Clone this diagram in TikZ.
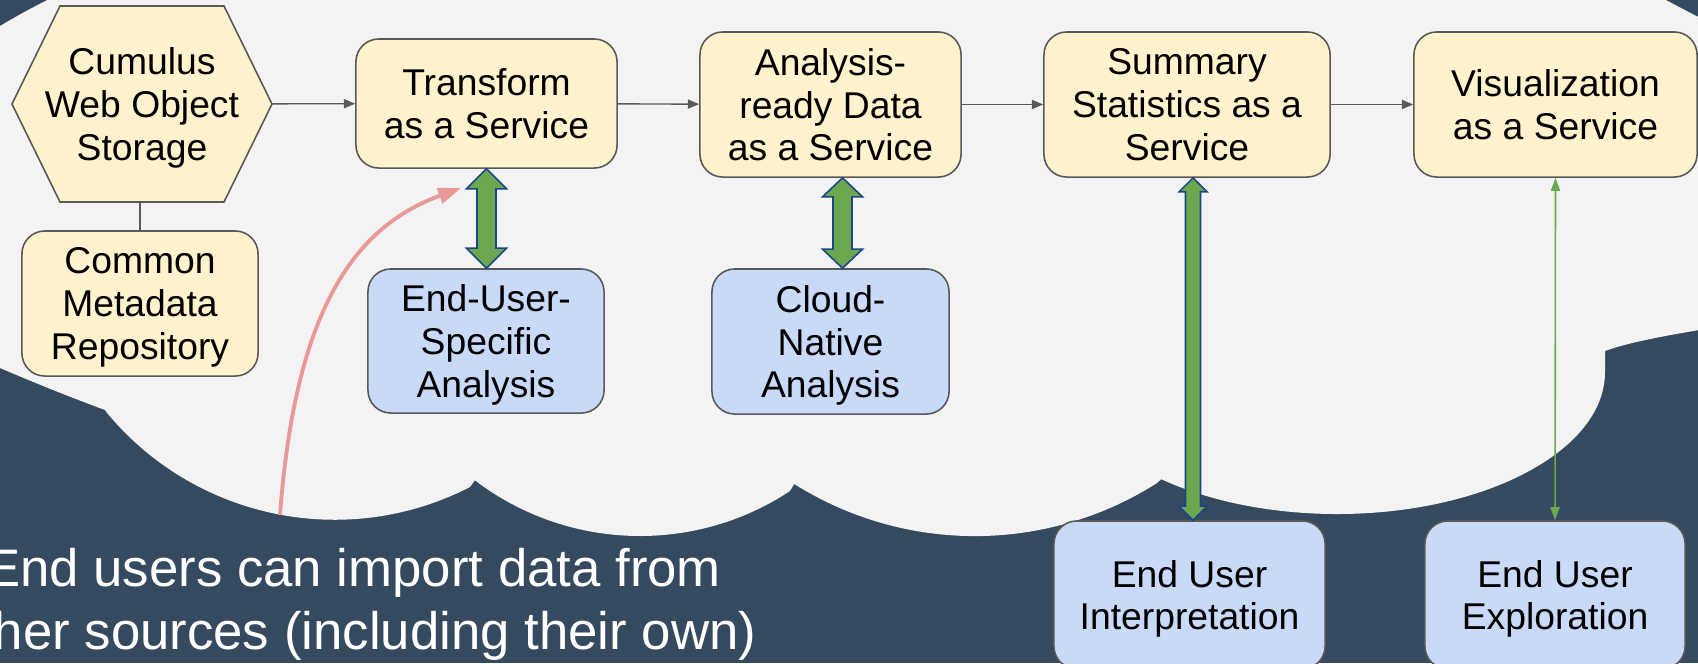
\documentclass[tikz,border=0pt]{standalone}
\usepackage{fontspec}
\setmainfont{Liberation Sans}
\usetikzlibrary{arrows.meta,calc}

\definecolor{slate}{HTML}{354A5F}
\definecolor{fog}{HTML}{F3F3F3}
\definecolor{cream}{HTML}{FFF2CC}
\definecolor{paleblue}{HTML}{C9DAF8}
\definecolor{leaf}{HTML}{6AA84F}
\definecolor{navy}{HTML}{1C4587}
\definecolor{rose}{HTML}{EA9999}
\definecolor{edge}{HTML}{595959}

% fat two-headed arrow: top anchor, bottom anchor, half shaft, half head, head length
\newcommand{\fatarrow}[5]{%
  \filldraw[fatarrow] let \p1=(#1), \p2=(#2) in
    (\x1,\y1) -- ([shift={(#4,#5)}]\x1,\y1) -- ([shift={(#3,#5)}]\x1,\y1)
    -- ([shift={(#3,-#5)}]\x1,\y2) -- ([shift={(#4,-#5)}]\x1,\y2) -- (\x1,\y2)
    -- ([shift={(-#4,-#5)}]\x1,\y2) -- ([shift={(-#3,-#5)}]\x1,\y2)
    -- ([shift={(-#3,#5)}]\x1,\y1) -- ([shift={(-#4,#5)}]\x1,\y1) -- cycle;}

\tikzset{
  every node/.style={font=\fontsize{10.6}{12.2}\selectfont},
  label text/.style={align=center, inner sep=0pt, text depth=0pt},
  svc/.style={label text, draw=edge, line width=0.45pt, fill=cream, rounded corners=6.5pt},
  usr/.style={svc, fill=paleblue},
  hexa/.style={draw=edge, line width=0.45pt, fill=cream},
  flow/.style={draw=edge, line width=0.4pt, -{Triangle[length=3.2pt,width=2.6pt]}},
  link/.style={draw=edge, line width=0.4pt},
  fatarrow/.style={fill=leaf, draw=navy, line width=0.45pt},
  thinarrow/.style={leaf, line width=0.45pt,
    {Triangle[length=3.7pt,width=2.6pt]}-{Triangle[length=3.7pt,width=2.6pt]}},
  import/.style={rose, line width=1.1pt, -{Triangle[length=6.5pt,width=4.5pt]}},
  note/.style={text=white, font=\fontsize{15}{17.9}\selectfont, align=center, inner sep=0pt}
}

\begin{document}
\begin{tikzpicture}[x=0.01cm, y=-0.01cm]
    \useasboundingbox (0,0) rectangle (1698,663);
    \clip (0,0) rectangle (1698,663);

    % Dark backdrop and the cloud
    \fill[slate] (0,0) rectangle (1698,663);
    \fill[fog] (-40,52) .. controls (0,24) and (40,2) .. (90,-20)
        -- (1630,-20) .. controls (1660,-2) and (1690,12) .. (1730,34)
        -- (1730,325) .. controls (1680,333) and (1632,341) .. (1605,351)
        -- (1605,372) arc[start angle=0, end angle=131, x radius=268, y radius=142]
        -- (1157,483) arc[start angle=57.5, end angle=122.2, radius=339]
        -- (790,491) arc[start angle=56.6, end angle=127.3, radius=272.5]
        -- (470,487) arc[start angle=62.8, end angle=140.3, radius=296]
        -- (105,410) .. controls (70,397) and (35,383) .. (0,368)
        -- (-40,350) -- cycle;

    % Storage hexagon
    \coordinate (hex) at (142,104);
    \filldraw[hexa] ($(hex)+(-130,0)$) -- ($(hex)+(-82,-98)$) -- ($(hex)+(82,-98)$)
        -- ($(hex)+(130,0)$) -- ($(hex)+(82,98)$) -- ($(hex)+(-82,98)$) -- cycle;
    \node[label text, minimum width=2.6cm, minimum height=1.96cm]
        (cwos) at (hex) {Cumulus\\Web Object\\Storage};

    % Service chain
    \node[svc, minimum width=2.36cm, minimum height=1.45cm] (cmr) at (140,303.5) {Common\\Metadata\\Repository};
    \node[svc, minimum width=2.61cm, minimum height=1.29cm] (trans) at (486.5,103.5) {Transform\\as a Service};
    \node[svc, minimum width=2.61cm, minimum height=1.45cm] (ard) at (830.5,104.5) {Analysis-\\ready Data\\as a Service};
    \node[svc, minimum width=2.86cm, minimum height=1.45cm] (summ) at (1187,104.5) {Summary\\Statistics as a\\Service};
    \node[svc, minimum width=2.83cm, minimum height=1.45cm] (vis) at (1555.5,104.5) {Visualization\\as a Service};

    % User side
    \node[usr, minimum width=2.36cm, minimum height=1.44cm] (eus) at (486,341) {End-User-\\Specific\\Analysis};
    \node[usr, minimum width=2.37cm, minimum height=1.45cm] (cna) at (830.5,341.5) {Cloud-\\Native\\Analysis};
    \node[usr, minimum width=2.71cm, minimum height=1.48cm] (interp) at (1189.5,595) {End User\\Interpretation};
    \node[usr, minimum width=2.60cm, minimum height=1.48cm] (expl) at (1555,595) {End User\\Exploration};

    % Flow arrows
    \foreach \a/\b in {cwos/trans, trans/ard, ard/summ, summ/vis}
        \draw[flow] (\a) -- (\b);
    \draw[link] (cmr.north |- cwos.south) -- (cmr.north);

    % Two-way exchange
    \fatarrow{trans.south}{eus.north}{9.5}{20}{20}
    \fatarrow{[xshift=0.12cm]ard.south}{cna.north}{9.5}{20}{19}
    \fatarrow{[xshift=0.06cm]summ.south}{interp.north}{7.5}{14}{14}
    \draw[thinarrow] (vis.south) -- (expl.north);

    % Imported data
    \coordinate (src) at (280,515);
    \coordinate (dst) at (461,188);
    \draw[import] (src) .. controls (295,315) and (351,228) .. (dst);
    \node[note, anchor=north] (imptext) at (353,548)
        {End users can import data from\\other sources (including their own)};
\end{tikzpicture}
\end{document}
